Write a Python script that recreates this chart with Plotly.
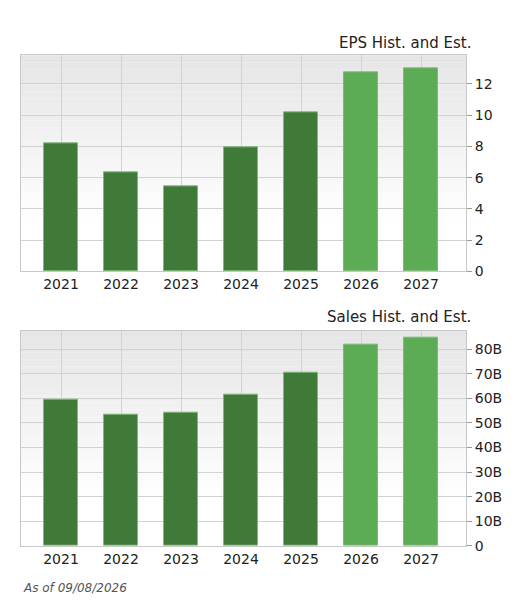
import plotly.graph_objects as go

years = ["2021", "2022", "2023", "2024", "2025", "2026", "2027"]
eps = [8.2, 6.34, 5.43, 7.92, 10.17, 12.76, 13.03]
sales = [59.6e9, 53.4e9, 54.0e9, 61.6e9, 70.4e9, 81.7e9, 84.6e9]
estimate = [False, False, False, False, False, True, True]
eps_ticks = [0, 2, 4, 6, 8, 10, 12]
sales_ticks = [0, 10e9, 20e9, 30e9, 40e9, 50e9, 60e9, 70e9, 80e9]
sales_labels = ["0", "10B", "20B", "30B", "40B", "50B", "60B", "70B", "80B"]

W, H = 517, 607
dark, light = "#3f7a39", "#5cab55"
colors = [light if e else dark for e in estimate]
xs = list(range(len(years)))

fig = go.Figure()
fig.add_bar(x=xs, y=eps, marker=dict(color=colors, line=dict(color="#7fb878", width=1)),
            width=0.58, xaxis="x", yaxis="y", showlegend=False)
fig.add_bar(x=xs, y=sales, marker=dict(color=colors, line=dict(color="#7fb878", width=1)),
            width=0.58, xaxis="x2", yaxis="y2", showlegend=False)

xd = [13 / W, 458 / W]
yd1 = [1 - 267 / H, 1 - 48 / H]
yd2 = [1 - 545 / H, 1 - 327 / H]
tickfont = dict(family="DejaVu Sans", size=14, color="#222")
common_x = dict(domain=xd, range=[-0.667, 6.75], tickvals=xs, ticktext=years, showgrid=True,
                gridcolor="#d2d2d2", ticks="", tickfont=tickfont, showline=True, linecolor="#c8c8c8",
                mirror=True, zeroline=False, fixedrange=True)
common_y = dict(side="right", showgrid=True, gridcolor="#d2d2d2", ticks="outside", ticklen=5,
                tickcolor="#999", tickfont=tickfont, showline=True, linecolor="#c8c8c8",
                mirror=True, zeroline=False)

fig.update_layout(
    width=W, height=H, margin=dict(l=0, r=0, t=0, b=0), paper_bgcolor="white",
    plot_bgcolor="rgba(0,0,0,0)", bargap=0,
    xaxis=dict(common_x, anchor="y"),
    yaxis=dict(common_y, domain=yd1, range=[0, 13.83], tickvals=eps_ticks, anchor="x"),
    xaxis2=dict(common_x, anchor="y2"),
    yaxis2=dict(common_y, domain=yd2, range=[0, 87.5e9], tickvals=sales_ticks,
                ticktext=sales_labels, anchor="x2"),
)

# gradient background: gray top to white bottom
n = 30
for xr, yr in (("x domain", "y domain"), ("x2 domain", "y2 domain")):
    for i in range(n):
        t = i / n
        c = int(230 + 25 * min(1, t / 0.75))
        fig.add_shape(type="rect", xref=xr, yref=yr, x0=0, x1=1, y0=1 - (i + 1) / n, y1=1 - i / n,
                      fillcolor=f"rgb({c},{c},{c})", line=dict(width=0), layer="below")

title_font = dict(family="DejaVu Sans", size=15, color="#222")
fig.add_annotation(text="EPS Hist. and Est.", x=465 / W, y=1 - 35 / H, xref="paper", yref="paper",
                   xanchor="right", yanchor="middle", showarrow=False, font=title_font)
fig.add_annotation(text="Sales Hist. and Est.", x=465 / W, y=1 - 313 / H, xref="paper", yref="paper",
                   xanchor="right", yanchor="middle", showarrow=False, font=title_font)
fig.add_annotation(text="<i>As of 09/08/2026</i>", x=13 / W, y=1 - 588 / H, xref="paper", yref="paper",
                   xanchor="left", yanchor="middle", showarrow=False,
                   font=dict(family="DejaVu Sans", size=12, color="#555"))

fig.write_html("out.html")
